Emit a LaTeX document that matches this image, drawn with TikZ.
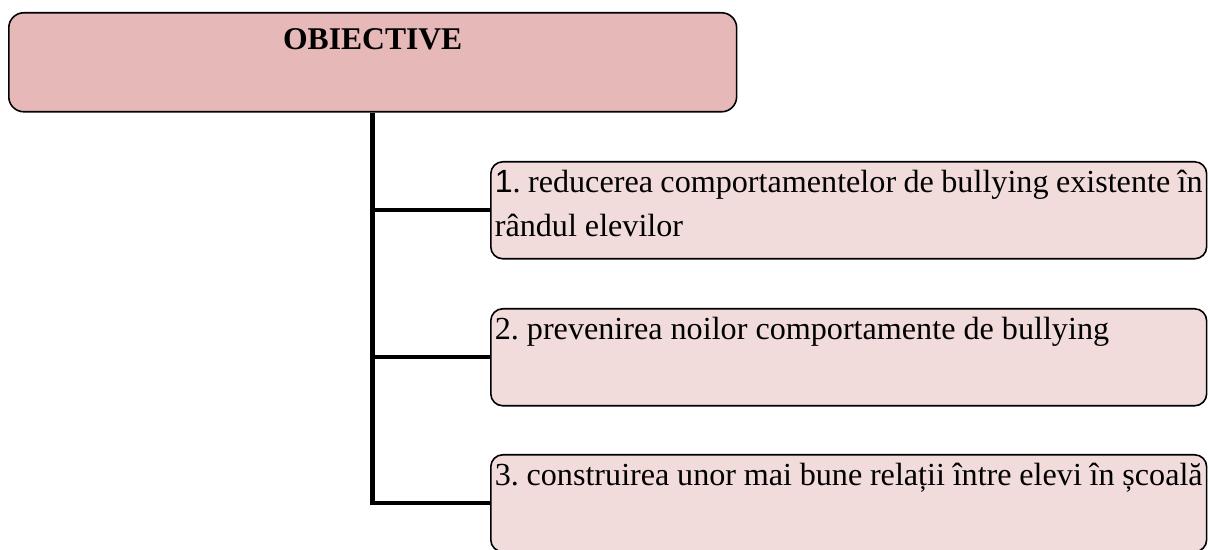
\documentclass[tikz,border=0pt]{standalone}
\usepackage{fontspec}
\setmainfont{Liberation Serif}
\newfontfamily\arialfont{Liberation Sans}
\frenchspacing
\definecolor{T1}{RGB}{230,184,183}
\definecolor{T2}{RGB}{242,220,219}
\tikzstyle{titlebox}=[draw, line width=0.9pt, rounded corners=0.3cm, fill=T1, inner xsep=0, inner ysep=0, anchor=north west, font=\fontsize{18}{25}\selectfont]
\tikzstyle{itembox}=[draw, line width=0.9pt, rounded corners=0.24cm, fill=T2, inner xsep=0.08cm, inner ysep=0, anchor=north west, font=\fontsize{18.3}{25}\selectfont]
\tikzstyle{trunk}=[line width=3.1pt]
\tikzstyle{branch}=[line width=2.4pt]
\newcommand{\itemtext}[1]{\parbox[t][1.94cm][t]{14.16cm}{\raggedright\rule{0pt}{0.62cm}#1}}

\begin{document}
\begin{tikzpicture}[x=0.02cm, y=-0.02cm]
    \useasboundingbox (0,0) rectangle (1208,550);
    \node[titlebox] (obj) at (8,12) {\parbox[t][1.98cm][t]{14.56cm}{\centering\rule{0pt}{0.74cm}\textbf{OBIECTIVE}}};
    \node[itembox] (o1) at (490,161) {\itemtext{{\arialfont 1}. reducerea comportamentelor de bullying existente în\\ rândul elevilor}};
    \node[itembox] (o2) at (490,308) {\itemtext{2. prevenirea noilor comportamente de bullying}};
    \node[itembox] (o3) at (490,454) {\itemtext{3. construirea unor mai bune relații între elevi în școală}};
    \draw[trunk] (obj.south) -- ([yshift=-1.2pt]obj.south |- o3.west);
    \draw[branch] (obj.south |- o1.west) -- (o1.west);
    \draw[branch] (obj.south |- o2.west) -- (o2.west);
    \draw[branch] ([xshift=-1.55pt]obj.south |- o3.west) -- (o3.west);
\end{tikzpicture}
\end{document}
